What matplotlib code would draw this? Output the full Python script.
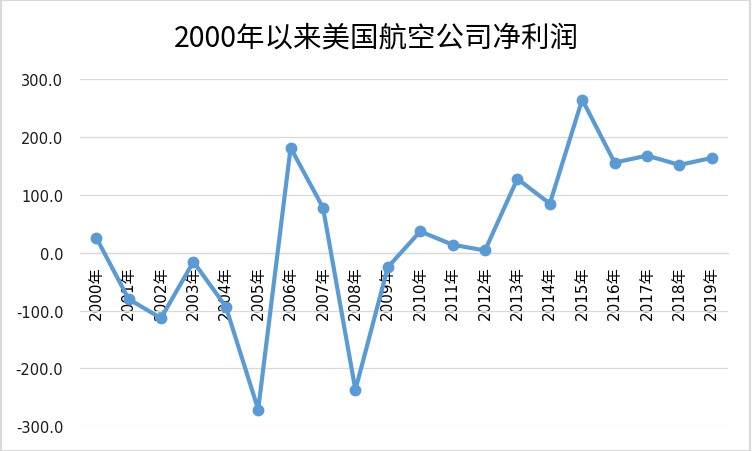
import matplotlib
matplotlib.use("Agg")
import matplotlib.pyplot as plt
from matplotlib.patches import Rectangle

# ── data ──────────────────────────────────────────────────────────────────────
years = [f"{y}年" for y in range(2000, 2020)]
profit = [26.4, -80.0, -113.0, -15.5, -93.0, -271.0, 181.6, 78.0, -237.0, -25.0,
          37.0, 14.0, 4.0, 128.0, 85.0, 265.0, 156.0, 168.0, 152.0, 164.0]
yticks = [-300, -200, -100, 0, 100, 200, 300]

TITLE = "2000年以来美国航空公司净利润"
BLUE = "#5B9BD5"
GRID = "#D9D9D9"

fig = plt.figure(figsize=(7.52, 4.52), dpi=100)
ax = fig.add_axes([80 / 752, 1 - 427.3 / 452, 648 / 752, (427.3 - 80.3) / 452])

x = list(range(len(years)))
ax.plot(x, profit, color=BLUE, linewidth=3, marker="o", markersize=7.5,
        markerfacecolor=BLUE, markeredgecolor=BLUE, zorder=3)

ax.set_xlim(-0.5, len(years) - 0.5)
ax.set_ylim(-300, 300)
ax.set_yticks(yticks)
ax.set_yticklabels([f"{v:.1f}" for v in yticks], family="DejaVu Sans")
ax.yaxis.grid(True, color=GRID, linewidth=0.9)
ax.set_axisbelow(True)

for side in ["top", "right", "left"]:
    ax.spines[side].set_visible(False)
ax.spines["bottom"].set_position(("data", 0))
ax.spines["bottom"].set_color(GRID)
ax.spines["bottom"].set_linewidth(0.9)

ax.set_xticks(x)
ax.set_xticklabels(years, rotation=90, family=["DejaVu Sans", "Noto Sans CJK SC"],
                   fontsize=11, color="black")
ax.tick_params(axis="x", length=0, pad=9)
ax.tick_params(axis="y", length=0, pad=12, labelsize=10.5, labelcolor="#1a1a1a")
for lbl in ax.get_xticklabels():
    lbl.set_zorder(5)

fig.text(0.5, 1 - 38.5 / 452, TITLE, ha="center", va="center", fontsize=20.5,
         family=["Noto Sans CJK SC", "DejaVu Sans"], color="black")

# light frame around the whole chart
fig.patches.append(Rectangle((0.001, 0.001), 0.997, 0.997, transform=fig.transFigure,
                             fill=False, edgecolor=GRID, linewidth=1.5))

fig.savefig("out.png", dpi=100)
plt.close(fig)
